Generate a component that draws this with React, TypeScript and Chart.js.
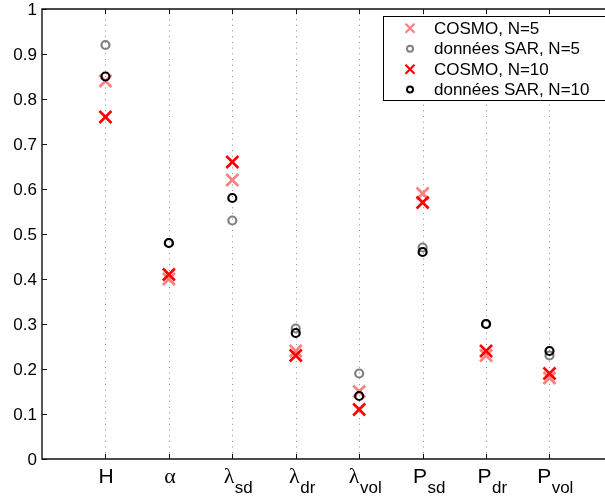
import React, { useEffect, useRef } from "react";
import { Chart, registerables } from "chart.js";

Chart.register(...registerables);

const categories = ["H", "α", "λ_sd", "λ_dr", "λ_vol", "P_sd", "P_dr", "P_vol"];
const cosmoN5 = [0.84, 0.40, 0.62, 0.24, 0.15, 0.59, 0.23, 0.18];
const sarN5 = [0.92, 0.48, 0.53, 0.29, 0.19, 0.47, 0.30, 0.23];
const cosmoN10 = [0.76, 0.41, 0.66, 0.23, 0.11, 0.57, 0.24, 0.19];
const sarN10 = [0.85, 0.48, 0.58, 0.28, 0.14, 0.46, 0.30, 0.24];
const yTicks = [0, 0.1, 0.2, 0.3, 0.4, 0.5, 0.6, 0.7, 0.8, 0.9, 1];
const seriesNames = ["COSMO, N=5", "données SAR, N=5", "COSMO, N=10", "données SAR, N=10"];

const PINK = "#ff8080";
const GREY = "#808080";
const RED = "#ff0000";
const BLACK = "#000000";

const SANS = '"Liberation Sans", Arial, sans-serif';
const SERIF = '"Liberation Serif", "Times New Roman", serif';

function toPoints(vals: number[]) {
  return vals.map((v, i) => ({ x: i + 1, y: v }));
}

const axesPlugin = {
  id: "matlabAxes",
  beforeDatasetsDraw(chart: any) {
    const { ctx, chartArea, scales } = chart;
    const { left, right, top, bottom } = chartArea;
    const x = scales.x;
    const y = scales.y;
    ctx.save();
    // dotted vertical grid
    ctx.strokeStyle = "#8c8c8c";
    ctx.lineWidth = 1;
    ctx.setLineDash([1, 4.7]);
    categories.forEach((_, i) => {
      const px = Math.round(x.getPixelForValue(i + 1)) + 0.5;
      ctx.beginPath();
      ctx.moveTo(px, bottom);
      ctx.lineTo(px, top);
      ctx.stroke();
    });
    ctx.setLineDash([]);
    // border
    ctx.strokeStyle = "#111";
    ctx.lineWidth = 1.4;
    ctx.beginPath();
    ctx.moveTo(right + 2, top);
    ctx.lineTo(left, top);
    ctx.lineTo(left, bottom);
    ctx.lineTo(right + 2, bottom);
    ctx.stroke();
    // y ticks and labels
    ctx.lineWidth = 1;
    ctx.fillStyle = "#000";
    ctx.font = "17px " + SANS;
    ctx.textAlign = "right";
    ctx.textBaseline = "middle";
    yTicks.forEach((v) => {
      const py = Math.round(y.getPixelForValue(v)) + 0.5;
      ctx.beginPath();
      ctx.moveTo(left, py);
      ctx.lineTo(left + 5, py);
      ctx.stroke();
      ctx.fillText(String(v), left - 5, py + 0.5);
    });
    // x ticks and labels
    categories.forEach((lab, i) => {
      const px = Math.round(x.getPixelForValue(i + 1)) + 0.5;
      ctx.beginPath();
      ctx.moveTo(px, bottom);
      ctx.lineTo(px, bottom - 5);
      ctx.moveTo(px, top);
      ctx.lineTo(px, top + 5);
      ctx.stroke();
      const [main, sub] = lab.split("_");
      const greek = main === "α" || main === "λ";
      const mainFont = greek ? "22px " + SERIF : "21px " + SANS;
      const subFont = "17px " + SANS;
      ctx.textAlign = "left";
      ctx.textBaseline = "alphabetic";
      ctx.font = mainFont;
      const mw = ctx.measureText(main).width;
      let sw = 0;
      if (sub) {
        ctx.font = subFont;
        sw = ctx.measureText(sub).width;
      }
      const total = mw + sw;
      const start = px - total / 2 + (sub ? 5.5 : 0.5);
      ctx.font = mainFont;
      ctx.fillText(main, start, bottom + 24);
      if (sub) {
        ctx.font = subFont;
        ctx.fillText(sub, start + mw + 0.5, bottom + 34);
      }
    });
    ctx.restore();
  },
  afterDraw(chart: any) {
    const { ctx } = chart;
    ctx.save();
    const bx = 383.5;
    const by = 16.5;
    ctx.fillStyle = "#fff";
    ctx.fillRect(bx, by, 240, 84);
    ctx.strokeStyle = "#000";
    ctx.lineWidth = 1;
    ctx.strokeRect(bx, by, 240, 84);
    const rows = [28.3, 48.8, 69.3, 89.6];
    const styles = [
      { type: "x", color: PINK },
      { type: "o", color: GREY },
      { type: "x", color: RED },
      { type: "o", color: BLACK },
    ];
    ctx.font = "17px " + SANS;
    ctx.textAlign = "left";
    ctx.textBaseline = "middle";
    rows.forEach((ry, i) => {
      const s = styles[i];
      const mx = 410;
      ctx.strokeStyle = s.color;
      if (s.type === "x") {
        ctx.lineWidth = 2.2;
        ctx.beginPath();
        ctx.moveTo(mx - 4.5, ry - 4.5);
        ctx.lineTo(mx + 4.5, ry + 4.5);
        ctx.moveTo(mx + 4.5, ry - 4.5);
        ctx.lineTo(mx - 4.5, ry + 4.5);
        ctx.stroke();
      } else {
        ctx.lineWidth = 2;
        ctx.beginPath();
        ctx.arc(mx, ry, 3, 0, Math.PI * 2);
        ctx.stroke();
      }
      ctx.fillStyle = "#000";
      ctx.fillText(seriesNames[i], 434, ry + 1);
    });
    ctx.restore();
  },
};

export default function App() {
  const ref = useRef<HTMLCanvasElement | null>(null);
  useEffect(() => {
    if (!ref.current) return;
    const mk = (label: string, vals: number[], color: string, style: string, order: number) => ({
      label,
      data: toPoints(vals),
      showLine: false,
      pointStyle: style,
      pointRadius: style === "crossRot" ? 8.5 : 4,
      pointHoverRadius: style === "crossRot" ? 8.5 : 4,
      pointBorderWidth: style === "crossRot" ? 2.6 : 2.2,
      borderColor: color,
      backgroundColor: "rgba(0,0,0,0)",
      pointBackgroundColor: "rgba(0,0,0,0)",
      order,
    });
    const chart = new Chart(ref.current, {
      type: "scatter",
      data: {
        datasets: [
          mk(seriesNames[0], cosmoN5, PINK, "crossRot", 4),
          mk(seriesNames[1], sarN5, GREY, "circle", 3),
          mk(seriesNames[2], cosmoN10, RED, "crossRot", 2),
          mk(seriesNames[3], sarN10, BLACK, "circle", 1),
        ],
      },
      options: {
        animation: false,
        responsive: false,
        devicePixelRatio: 1,
        layout: { autoPadding: false, padding: { left: 42, top: 9, right: 0, bottom: 45 } },
        plugins: { legend: { display: false }, tooltip: { enabled: false } },
        scales: {
          x: { type: "linear", min: 0, max: 8.875, display: false },
          y: { type: "linear", min: 0, max: 1, display: false },
        },
      },
      plugins: [axesPlugin],
    } as any);
    return () => chart.destroy();
  }, []);
  return (
    <div style={{ position: "absolute", left: 0, top: 0, width: 605, height: 504, background: "#fff" }}>
      <canvas ref={ref} width={605} height={504} style={{ display: "block" }} />
    </div>
  );
}
